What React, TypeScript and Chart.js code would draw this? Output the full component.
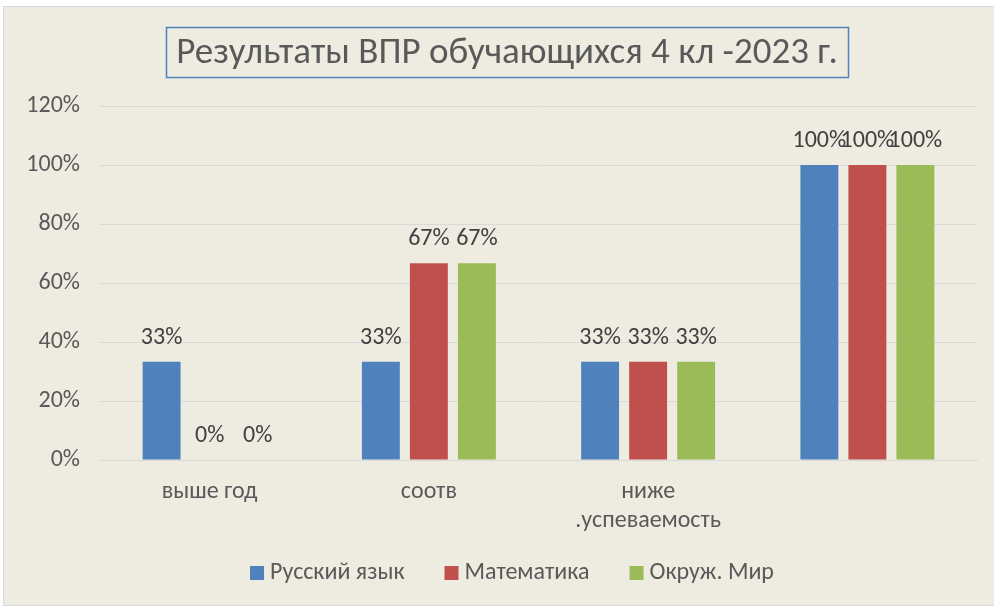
import React, { useEffect, useRef } from "react";
import { Chart, registerables } from "chart.js";

Chart.register(...registerables);

const TITLE = "Результаты ВПР обучающихся 4 кл -2023 г.";
const categories: (string | string[])[] = ["выше год", "соотв", ["ниже", ".успеваемость"], ""];
const seriesNames = ["Русский язык", "Математика", "Окруж. Мир"];
const russian = [33.3, 33.3, 33.3, 100];
const math = [0, 66.7, 33.3, 100];
const world = [0, 66.7, 33.3, 100];
const colors = ["#4F81BD", "#C0504D", "#9BBB59"];
const yTicksMax = 120;
const yStep = 20;

const FONT = 'Carlito, "Liberation Sans Narrow", "DejaVu Sans Condensed", "Open Sans", sans-serif';
const TEXT = "#595959";

const overlayPlugin = {
  id: "overlay",
  afterDatasetsDraw(chart: any) {
    const ctx = chart.ctx;
    ctx.save();
    ctx.font = `24px ${FONT}`;
    ctx.fillStyle = "#404040";
    ctx.textAlign = "center";
    ctx.textBaseline = "middle";
    chart.data.datasets.forEach((ds: any, i: number) => {
      const meta = chart.getDatasetMeta(i);
      meta.data.forEach((el: any, j: number) => {
        const v = ds.data[j];
        ctx.fillText(Math.round(v) + "%", el.x, el.y - 24);
      });
    });
    ctx.restore();
  },
  afterDraw(chart: any) {
    const ctx = chart.ctx;
    const w = chart.width;
    ctx.save();
    ctx.font = `37px ${FONT}`;
    ctx.fillStyle = TEXT;
    ctx.textAlign = "center";
    ctx.textBaseline = "middle";
    const tcx = w / 2 + 8;
    const tcy = 47;
    ctx.fillText(TITLE, tcx, tcy);
    const tw = ctx.measureText(TITLE).width;
    ctx.strokeStyle = "#4F81BD";
    ctx.lineWidth = 1.5;
    ctx.strokeRect(Math.round(tcx - tw / 2 - 10) + 0.5, 20.5, Math.round(tw + 20), 50);
    ctx.font = `24px ${FONT}`;
    ctx.textAlign = "left";
    const box = 14;
    const gapBox = 6;
    const gapItem = 40;
    const widths = seriesNames.map((n) => ctx.measureText(n).width);
    const total =
      widths.reduce((a, b) => a + b, 0) + seriesNames.length * (box + gapBox) + gapItem * (seriesNames.length - 1);
    let x = w / 2 + 13 - total / 2;
    const ly = 566;
    seriesNames.forEach((n, i) => {
      ctx.fillStyle = colors[i];
      ctx.fillRect(x, ly - box / 2, box, box);
      ctx.fillStyle = TEXT;
      ctx.fillText(n, x + box + gapBox, ly);
      x += box + gapBox + widths[i] + gapItem;
    });
    ctx.restore();
  },
};

export default function App() {
  const ref = useRef<HTMLCanvasElement | null>(null);
  useEffect(() => {
    if (!ref.current) return;
    const chart = new Chart(ref.current, {
      type: "bar",
      data: {
        labels: categories,
        datasets: [
          { label: seriesNames[0], data: russian, backgroundColor: colors[0] },
          { label: seriesNames[1], data: math, backgroundColor: colors[1] },
          { label: seriesNames[2], data: world, backgroundColor: colors[2] },
        ],
      },
      options: {
        responsive: false,
        animation: false,
        devicePixelRatio: 1,
        datasets: { bar: { categoryPercentage: 0.657, barPercentage: 0.79 } },
        layout: { padding: { left: 0, right: 17, top: 99, bottom: 0 } },
        plugins: { legend: { display: false }, title: { display: false }, tooltip: { enabled: false } },
        scales: {
          x: {
            grid: { display: false, drawTicks: false },
            border: { display: true, color: "#D9D9D9", width: 1 },
            ticks: { color: TEXT, font: { size: 24, family: FONT, lineHeight: 1.2 }, padding: 18, maxRotation: 0, autoSkip: false },
            afterFit: (s: any) => {
              s.height = 145;
            },
          },
          y: {
            min: 0,
            max: yTicksMax,
            grid: { color: "#D9D9D9", lineWidth: 1, drawTicks: false },
            border: { display: false },
            ticks: {
              stepSize: yStep,
              color: TEXT,
              font: { size: 24, family: FONT },
              padding: 20,
              callback: (v: any) => v + "%",
            },
            afterFit: (s: any) => {
              s.width = 96;
            },
          },
        },
      },
      plugins: [overlayPlugin],
    });
    return () => chart.destroy();
  }, []);
  return (
    <div style={{ position: "fixed", left: 0, top: 0, width: 994, height: 606, background: "#fff" }}>
      <div
        style={{
          position: "absolute",
          left: 4,
          top: 7,
          width: 990,
          height: 598,
          background: "#EEECE1",
          boxShadow: "0 0 0 1px #D9D9D9",
        }}
      >
        <canvas ref={ref} width={990} height={598} style={{ display: "block" }} />
      </div>
    </div>
  );
}
